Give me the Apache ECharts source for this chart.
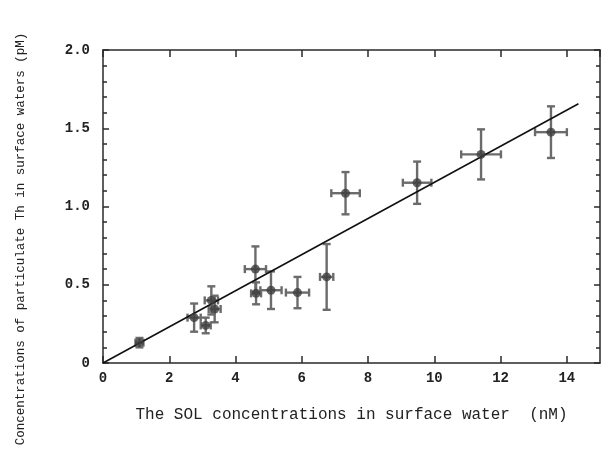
<!DOCTYPE html>
<html>
<head>
<meta charset="utf-8">
<script src="https://cdn.jsdelivr.net/npm/echarts@6/dist/echarts.min.js"></script>
<style>
  html, body { margin: 0; padding: 0; background: #fff; }
  #chart { width: 602px; height: 466px; }
</style>
</head>
<body>
<div id="chart"></div>
<script>
// SOL concentration (nM) vs particulate Th (pM) with error bars
const solConc = [1.1, 2.75, 3.1, 3.27, 3.37, 4.6, 4.62, 5.07, 5.87, 6.75, 7.32, 9.48, 11.41, 13.52];
const thConc  = [0.13, 0.29, 0.24, 0.40, 0.345, 0.60, 0.445, 0.465, 0.45, 0.55, 1.085, 1.152, 1.333, 1.475];
const solErr  = [0.12, 0.2, 0.15, 0.2, 0.18, 0.32, 0.15, 0.32, 0.35, 0.2, 0.43, 0.43, 0.6, 0.48];
const thErr   = [0.03, 0.09, 0.05, 0.09, 0.085, 0.145, 0.07, 0.12, 0.10, 0.21, 0.135, 0.135, 0.16, 0.165];

// Fitted line through the origin
const fitX = [0, 14.35];
const fitY = [0, 1.657];

const xTicks = [0, 2, 4, 6, 8, 10, 12, 14];
const yTicks = ['0', '0.5', '1.0', '1.5', '2.0'];

const xTitle = 'The SOL concentrations in surface water  (nM)';
const yTitle = 'Concentrations of particulate Th in surface waters (pM)';

const points = solConc.map((x, i) => [x, thConc[i], solErr[i], thErr[i]]);
const fitLine = fitX.map((x, i) => [x, fitY[i]]);

const monoFont = '"Liberation Mono", "DejaVu Sans Mono", monospace';
const axisColor = '#2a2a2a';

function renderErrorBar(params, api) {
  const x = api.value(0), y = api.value(1);
  const dx = api.value(2), dy = api.value(3);
  const left = api.coord([x - dx, y]);
  const right = api.coord([x + dx, y]);
  const top = api.coord([x, y + dy]);
  const bottom = api.coord([x, y - dy]);
  const cap = 4;
  const style = { stroke: '#6b6b6b', lineWidth: 2.4, fill: null };
  const line = (x1, y1, x2, y2) => ({ type: 'line', shape: { x1, y1, x2, y2 }, style });
  return {
    type: 'group',
    children: [
      line(left[0], left[1], right[0], right[1]),
      line(left[0], left[1] - cap, left[0], left[1] + cap),
      line(right[0], right[1] - cap, right[0], right[1] + cap),
      line(top[0], top[1], bottom[0], bottom[1]),
      line(top[0] - cap, top[1], top[0] + cap, top[1]),
      line(bottom[0] - cap, bottom[1], bottom[0] + cap, bottom[1])
    ]
  };
}

const lineStyle = { color: axisColor, width: 1.5 };

function xAxisFrame(position, labelled) {
  return {
    type: 'value', min: 0, max: 15, interval: 2, position,
    axisLine: { onZero: false, lineStyle },
    axisTick: { inside: true, length: 7, lineStyle },
    axisLabel: labelled ? {
      color: '#222', fontFamily: monoFont, fontSize: 14, fontWeight: 'bold', margin: 8,
      showMaxLabel: false,
      formatter: v => (xTicks.indexOf(v) >= 0 ? String(v) : '')
    } : { show: false },
    splitLine: { show: false },
    name: labelled ? xTitle : '',
    nameLocation: 'middle', nameGap: 44,
    nameTextStyle: { color: '#222', fontFamily: monoFont, fontSize: 16 }
  };
}

function yAxisFrame(position, labelled) {
  return {
    type: 'value', min: 0, max: 2, interval: 0.5, position,
    axisLine: { onZero: false, lineStyle },
    axisTick: { inside: true, length: 6, lineStyle },
    minorTick: { show: true, splitNumber: 5, length: 4, lineStyle },
    axisLabel: labelled ? {
      color: '#222', fontFamily: monoFont, fontSize: 14, fontWeight: 'bold', margin: 13,
      formatter: v => yTicks[Math.round(v / 0.5)]
    } : { show: false },
    splitLine: { show: false }
  };
}

const chart = echarts.init(document.getElementById('chart'));
chart.setOption({
  animation: false,
  backgroundColor: '#fff',
  grid: { left: 103, top: 50, right: 2, bottom: 103 },
  xAxis: [xAxisFrame('bottom', true), xAxisFrame('top', false)],
  yAxis: [yAxisFrame('left', true), yAxisFrame('right', false)],
  graphic: [{
    type: 'text',
    x: 21, y: 239,
    rotation: Math.PI / 2,
    style: {
      text: yTitle,
      font: '12.5px ' + monoFont,
      fill: '#222',
      align: 'center',
      verticalAlign: 'middle'
    }
  }],
  series: [
    {
      type: 'line', data: fitLine, symbol: 'none',
      lineStyle: { color: '#111', width: 1.6 }, z: 3
    },
    {
      type: 'custom', data: points, renderItem: renderErrorBar,
      encode: { x: 0, y: 1 }, z: 2
    },
    {
      type: 'scatter', data: points.map(p => [p[0], p[1]]),
      symbol: 'circle', symbolSize: 9,
      itemStyle: { color: '#3d3d3d' }, z: 4
    }
  ]
});
</script>
</body>
</html>
